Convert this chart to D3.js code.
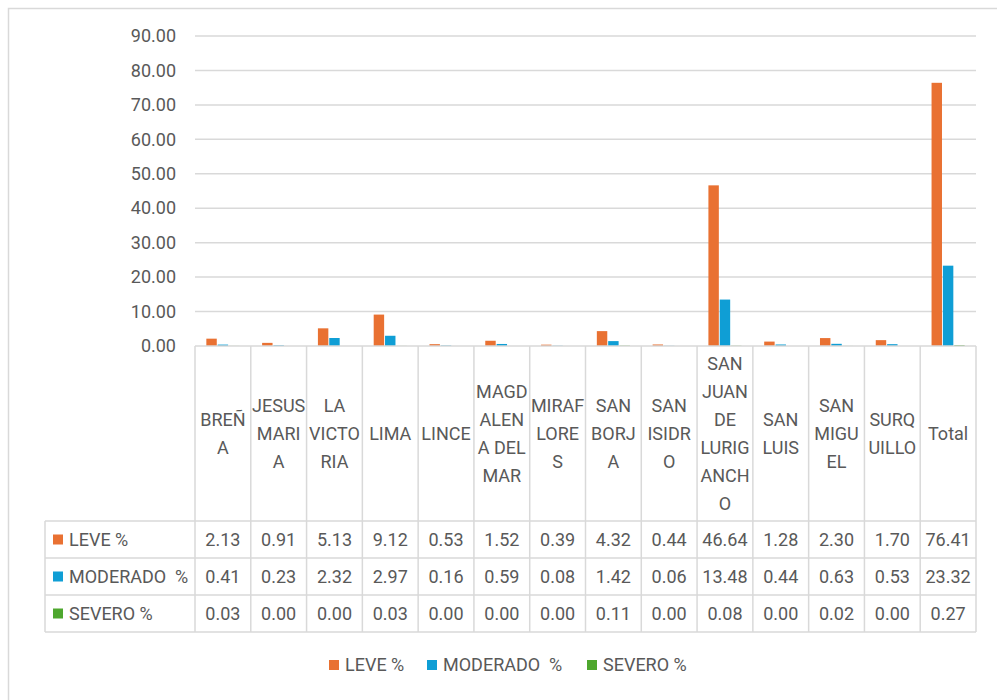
<!DOCTYPE html>
<html lang="es">
  <head>
    <meta charset="utf-8" />
    <title>Niveles por distrito</title>
    <script src="https://d3js.org/d3.v7.min.js" charset="utf-8"></script>
    <style>
      body { margin: 0; background: #fff; }
      svg text { font-family: Roboto, "Noto Sans", sans-serif; fill: #595959; }
    </style>
  </head>
  <body>
    <div id="chart"></div>
    <script type="text/javascript">
      // data
      const categories = ["BREÑA", "JESUS MARIA", "LA VICTORIA", "LIMA", "LINCE", "MAGDALENA DEL MAR",
        "MIRAFLORES", "SAN BORJA", "SAN ISIDRO", "SAN JUAN DE LURIGANCHO", "SAN LUIS", "SAN MIGUEL",
        "SURQUILLO", "Total"];
      // header text as wrapped in the table
      const categoryLines = [["BREÑ", "A"], ["JESUS", "MARI", "A"], ["LA", "VICTO", "RIA"], ["LIMA"], ["LINCE"],
        ["MAGD", "ALEN", "A DEL", "MAR"], ["MIRAF", "LORE", "S"], ["SAN", "BORJ", "A"], ["SAN", "ISIDR", "O"],
        ["SAN", "JUAN", "DE", "LURIG", "ANCH", "O"], ["SAN", "LUIS"], ["SAN", "MIGU", "EL"], ["SURQ", "UILLO"], ["Total"]];
      const seriesNames = ["LEVE %", "MODERADO  %", "SEVERO %"];
      const leve = [2.13, 0.91, 5.13, 9.12, 0.53, 1.52, 0.39, 4.32, 0.44, 46.64, 1.28, 2.30, 1.70, 76.41];
      const moderado = [0.41, 0.23, 2.32, 2.97, 0.16, 0.59, 0.08, 1.42, 0.06, 13.48, 0.44, 0.63, 0.53, 23.32];
      const severo = [0.03, 0.00, 0.00, 0.03, 0.00, 0.00, 0.00, 0.11, 0.00, 0.08, 0.00, 0.02, 0.00, 0.27];
      const yTicks = [0, 10, 20, 30, 40, 50, 60, 70, 80, 90];

      const seriesValues = [leve, moderado, severo];
      const colors = ["#E97132", "#0F9ED5", "#4EA72E"];

      const cW = 997, cH = 700,
        plotLeft = 195, plotRight = 976,
        plotTop = 36, plotBottom = 346,
        tableLeft = 45, headerBottom = 521, rowH = 37;

      const svg = d3.select("#chart").append("svg")
        .attr("width", cW).attr("height", cH);

      // chart frame
      svg.append("rect")
        .attr("x", 8.5).attr("y", 8.5)
        .attr("width", cW + 10).attr("height", cH + 10)
        .attr("fill", "none").attr("stroke", "#d9d9d9").attr("stroke-width", 1.5);

      const x = d3.scaleBand().domain(categories).range([plotLeft, plotRight]);
      const xSub = d3.scaleBand().domain(seriesNames).range([0, x.bandwidth()])
        .paddingInner(0.08).paddingOuter(1.0);
      const y = d3.scaleLinear().domain([0, 90]).range([plotBottom, plotTop]);

      // gridlines
      svg.append("g").selectAll("line").data(yTicks.filter(d => d > 0)).enter().append("line")
        .attr("x1", plotLeft).attr("x2", plotRight)
        .attr("y1", d => y(d)).attr("y2", d => y(d))
        .attr("stroke", "#d9d9d9").attr("stroke-width", 1.5);

      // y axis labels
      const yAxis = d3.axisLeft(y).tickValues(yTicks).tickFormat(d3.format(".2f")).tickSize(0).tickPadding(19);
      const yG = svg.append("g").attr("transform", `translate(${plotLeft},0)`).call(yAxis);
      yG.select(".domain").remove();
      yG.selectAll("text").style("font-size", "18px").attr("fill", "#595959");

      // bars
      const groups = svg.append("g").selectAll("g").data(seriesValues).enter().append("g")
        .attr("fill", (d, i) => colors[i]);
      groups.selectAll("rect")
        .data((vals, si) => vals.map((v, ci) => ({ v, c: categories[ci], s: seriesNames[si] })))
        .enter().append("rect")
        .attr("x", d => x(d.c) + xSub(d.s))
        .attr("width", xSub.bandwidth())
        .attr("y", d => y(d.v))
        .attr("height", d => plotBottom - y(d.v));

      // data table
      const table = svg.append("g").attr("stroke", "#d9d9d9").attr("stroke-width", 1.5);
      const tableBottom = headerBottom + rowH * seriesNames.length;
      // vertical lines of category columns
      const xEdges = categories.map(c => x(c)).concat([plotRight]);
      table.selectAll("line.v").data(xEdges).enter().append("line")
        .attr("class", "v")
        .attr("x1", d => d).attr("x2", d => d)
        .attr("y1", plotBottom).attr("y2", tableBottom);
      table.append("line").attr("x1", plotLeft).attr("x2", plotRight)
        .attr("y1", plotBottom).attr("y2", plotBottom);
      // horizontal row lines
      d3.range(seriesNames.length + 1).forEach(i => {
        table.append("line").attr("x1", tableLeft).attr("x2", plotRight)
          .attr("y1", headerBottom + i * rowH).attr("y2", headerBottom + i * rowH);
      });
      table.append("line").attr("x1", tableLeft).attr("x2", tableLeft)
        .attr("y1", headerBottom).attr("y2", tableBottom);

      // category headers
      const lineH = 28;
      const headerMid = (plotBottom + headerBottom) / 2;
      categories.forEach((c, i) => {
        const lines = categoryLines[i];
        const t = svg.append("text")
          .attr("text-anchor", "middle")
          .style("font-size", "18px");
        lines.forEach((ln, j) => {
          t.append("tspan")
            .attr("x", x(c) + x.bandwidth() / 2)
            .attr("y", headerMid + (j - (lines.length - 1) / 2) * lineH)
            .attr("dy", "0.35em")
            .text(ln);
        });
      });

      // table rows
      seriesNames.forEach((s, si) => {
        const cy = headerBottom + si * rowH + rowH / 2;
        svg.append("rect").attr("x", 53).attr("y", cy - 5).attr("width", 10).attr("height", 10)
          .attr("fill", colors[si]);
        svg.append("text").attr("x", 69).attr("y", cy).attr("dy", "0.35em")
          .style("font-size", "18px").style("white-space", "pre").text(s);
        svg.append("g").selectAll("text").data(seriesValues[si]).enter().append("text")
          .attr("x", (d, ci) => x(categories[ci]) + x.bandwidth() / 2)
          .attr("y", cy).attr("dy", "0.35em")
          .attr("text-anchor", "middle")
          .style("font-size", "18px")
          .text(d => d3.format(".2f")(d));
      });

      // legend
      const legendX = [329, 427, 587];
      const legendY = 665;
      seriesNames.forEach((s, si) => {
        svg.append("rect").attr("x", legendX[si]).attr("y", legendY - 5)
          .attr("width", 10).attr("height", 10).attr("fill", colors[si]);
        svg.append("text").attr("x", legendX[si] + 16).attr("y", legendY).attr("dy", "0.35em")
          .style("font-size", "18px").style("white-space", "pre").text(s);
      });
    </script>
  </body>
</html>
